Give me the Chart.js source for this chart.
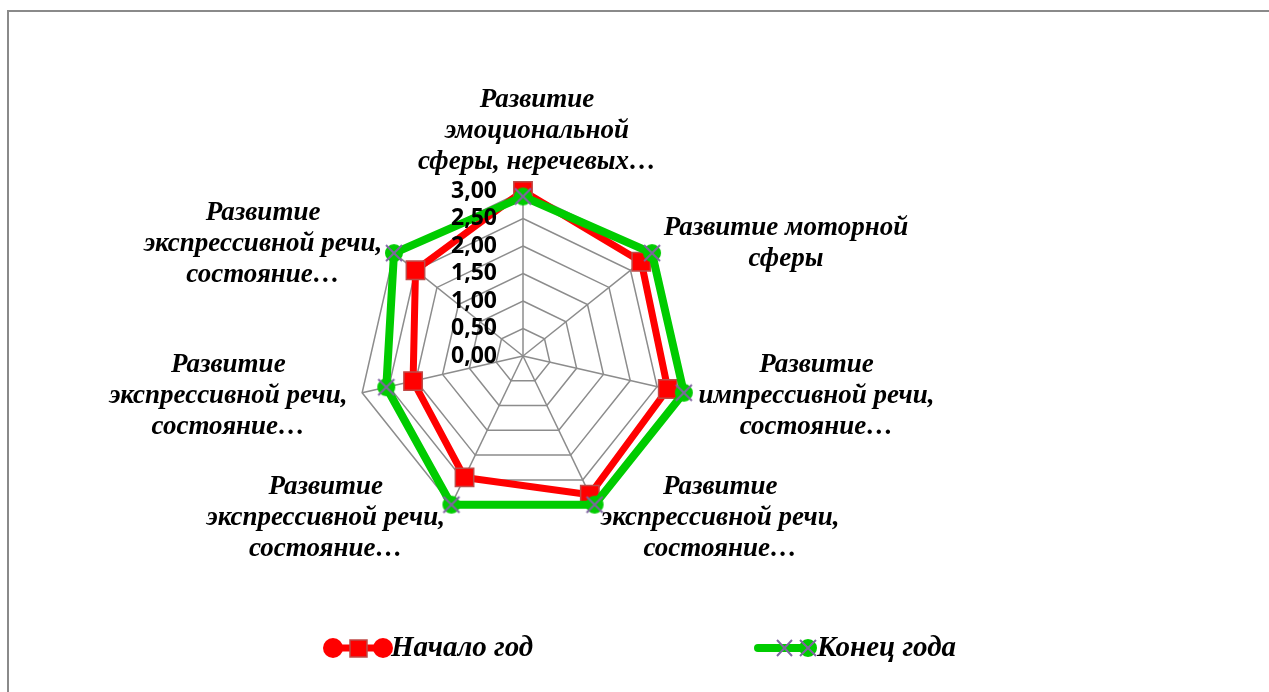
<!DOCTYPE html>
<html>
<head>
<meta charset="utf-8">
<script src="https://cdn.jsdelivr.net/npm/chart.js@4.4.1/dist/chart.umd.min.js"></script>
<style>
  html, body { margin: 0; padding: 0; background: #fff; overflow: hidden; }
  #wrap { position: relative; width: 1269px; height: 692px; }
  #frame { position: absolute; left: 7px; top: 10px; width: 1300px; height: 720px; border: 2px solid #8a8a8a; box-sizing: border-box; }
  canvas { position: absolute; left: 0; top: 0; }
</style>
</head>
<body>
<div id="wrap">
  <div id="frame"></div>
  <canvas id="chart" width="1269" height="692"></canvas>
</div>
<script>
// подписи осей (по строкам, как в исходной диаграмме)
const categories = [
  ['Развитие', 'эмоциональной', 'сферы, неречевых…'],
  ['Развитие моторной', 'сферы'],
  ['Развитие', 'импрессивной речи,', 'состояние…'],
  ['Развитие', 'экспрессивной речи,', 'состояние…'],
  ['Развитие', 'экспрессивной речи,', 'состояние…'],
  ['Развитие', 'экспрессивной речи,', 'состояние…'],
  ['Развитие', 'экспрессивной речи,', 'состояние…']
];
const seriesNames = ['Начало год', 'Конец года'];
const startValues = [3.0, 2.75, 2.7, 2.8, 2.45, 2.05, 2.5];
const endValues = [2.9, 3.0, 3.0, 3.0, 3.0, 2.55, 3.0];
const tickValues = [0, 0.5, 1, 1.5, 2, 2.5, 3];
const tickLabels = ['0,00', '0,50', '1,00', '1,50', '2,00', '2,50', '3,00'];

const RED = '#ff0000';
const RED_EDGE = '#be4b48';
const GREEN = '#00cc00';
const PURPLE = '#8064a2';

// маркер второго ряда: зелёный круг + фиолетовый крестик
function makeEndMarker() {
  const c = document.createElement('canvas');
  c.width = 24; c.height = 24;
  const g = c.getContext('2d');
  g.fillStyle = GREEN;
  g.beginPath(); g.arc(12, 12, 9, 0, Math.PI * 2); g.fill();
  g.strokeStyle = PURPLE; g.lineWidth = 2;
  g.beginPath();
  g.moveTo(4, 4); g.lineTo(20, 20);
  g.moveTo(20, 4); g.lineTo(4, 20);
  g.stroke();
  return c;
}
const endMarker = makeEndMarker();

// подписи осей, значения шкалы и легенда
const excelLabels = {
  id: 'excelLabels',
  afterDraw(chart) {
    const r = chart.scales.r;
    const ctx = chart.ctx;
    ctx.save();
    ctx.fillStyle = '#000';
    ctx.textBaseline = 'middle';
    ctx.textAlign = 'center';

    // подписи категорий
    ctx.font = 'italic bold 27px "Liberation Serif"';
    const lh = 31;
    chart.data.labels.forEach((lines, i) => {
      const p = r.getPointPosition(i, r.drawingArea + 15);
      const w = Math.max(...lines.map(l => ctx.measureText(l).width));
      const h = lines.length * lh;
      const dx = p.x - r.xCenter;
      let cx = p.x, top = p.y - h / 2;
      if (Math.abs(dx) < 1) { top = p.y - h + 2; cx += 14; }  // в Excel верхняя подпись чуть сдвинута вправо
      else if (dx > 0) cx = p.x + w / 2;
      else cx = p.x - w / 2;
      lines.forEach((t, k) => ctx.fillText(t, cx, top + lh * (k + 0.5)));
    });

    // значения шкалы
    ctx.font = 'bold 23px "Noto Sans"';
    ctx.textAlign = 'right';
    tickValues.forEach((v, i) => {
      const y = r.yCenter - r.getDistanceFromCenterForValue(v);
      ctx.fillText(tickLabels[i], r.xCenter - 26, y);
    });

    // легенда
    const ly = 648;
    const ds = chart.data.datasets;
    // ряд 1
    ctx.strokeStyle = ds[0].borderColor;
    ctx.lineWidth = 7;
    ctx.beginPath(); ctx.moveTo(326, ly); ctx.lineTo(390, ly); ctx.stroke();
    ctx.fillStyle = ds[0].borderColor;
    [333, 383].forEach(x => { ctx.beginPath(); ctx.arc(x, ly, 10, 0, Math.PI * 2); ctx.fill(); });
    ctx.fillRect(350, ly - 8, 17, 17);
    ctx.strokeStyle = RED_EDGE; ctx.lineWidth = 1.5;
    ctx.strokeRect(350, ly - 8, 17, 17);
    // ряд 2
    ctx.strokeStyle = ds[1].borderColor;
    ctx.lineWidth = 8; ctx.lineCap = 'round';
    ctx.beginPath(); ctx.moveTo(758, ly); ctx.lineTo(812, ly); ctx.stroke();
    ctx.lineCap = 'butt';
    ctx.drawImage(endMarker, 808 - 12, ly - 12);
    ctx.strokeStyle = PURPLE; ctx.lineWidth = 2;
    ctx.beginPath();
    ctx.moveTo(777, ly - 8); ctx.lineTo(792, ly + 8);
    ctx.moveTo(792, ly - 8); ctx.lineTo(777, ly + 8);
    ctx.stroke();

    ctx.fillStyle = '#000';
    ctx.textAlign = 'left';
    ctx.font = 'italic bold 29px "Liberation Serif"';
    ctx.fillText(ds[0].label, 391, ly + 1);
    ctx.fillText(ds[1].label, 817, ly + 1);
    ctx.restore();
  }
};

new Chart(document.getElementById('chart'), {
  type: 'radar',
  data: {
    labels: categories,
    datasets: [
      {
        label: seriesNames[0],
        data: startValues,
        borderColor: RED,
        backgroundColor: 'transparent',
        borderWidth: 7,
        fill: false,
        pointStyle: 'rect',
        pointRadius: 13,
        pointBackgroundColor: RED,
        pointBorderColor: RED_EDGE,
        pointBorderWidth: 1.5,
        order: 1,
        clip: false
      },
      {
        label: seriesNames[1],
        data: endValues,
        borderColor: GREEN,
        backgroundColor: 'transparent',
        borderWidth: 8,
        fill: false,
        pointStyle: endMarker,
        pointRadius: 10,
        order: 0,
        clip: false
      }
    ]
  },
  options: {
    responsive: false,
    animation: false,
    layout: { padding: { top: 191, bottom: 171, left: 223, right: 446 } },
    plugins: {
      legend: { display: false },
      tooltip: { enabled: false }
    },
    elements: { line: { tension: 0 } },
    scales: {
      r: {
        min: 0,
        max: 3,
        beginAtZero: true,
        ticks: { display: false, stepSize: 0.5 },
        grid: { color: '#8c8c8c', lineWidth: 1.5, circular: false },
        angleLines: { color: '#8c8c8c', lineWidth: 1.5 },
        pointLabels: { display: false }
      }
    }
  },
  plugins: [excelLabels]
});
</script>
</body>
</html>
